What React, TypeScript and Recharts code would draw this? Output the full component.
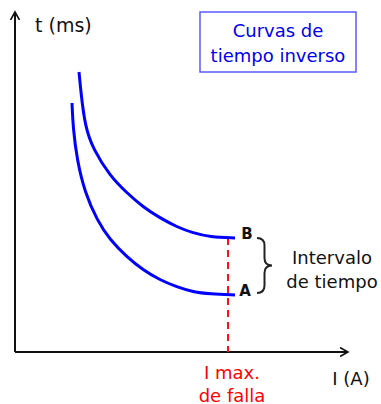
import { ComposedChart, Line, XAxis, YAxis, ReferenceLine, ReferenceDot, ReferenceArea } from "recharts"

// curve readings, in plot units (I right, t up)
const curveBCurrent = [64, 66, 70, 78, 95, 112, 128, 145, 162, 178, 195, 220]
const curveBTime = [280, 259, 226, 203, 176, 159, 145, 134, 125, 119, 115, 114]
const curveACurrent = [57, 58, 62, 70, 82, 95, 112, 128, 145, 162, 178, 195, 220]
const curveATime = [249, 225, 192, 159, 132, 112, 95, 82, 72, 65, 60, 58, 57]

const maxFaultCurrent = 213
const titleLines = ["Curvas de", "tiempo inverso"]
const intervalLines = ["Intervalo", "de tiempo"]
const faultLines = ["I max.", "de falla"]

const curveB = curveBCurrent.map((i, k) => ({ i, t: curveBTime[k] }))
const curveA = curveACurrent.map((i, k) => ({ i, t: curveATime[k] }))

const FONT = "DejaVu Sans"

function textBlock(lines: string[], color: string, size: number, gap: number, anchor: "start" | "middle" = "middle", weight = "normal") {
  return (p: any) => {
    const top = p.cy - ((lines.length - 1) * gap) / 2
    return (
      <text
        x={p.cx}
        y={top}
        fill={color}
        fontSize={size}
        fontFamily={FONT}
        fontWeight={weight}
        textAnchor={anchor}
        dominantBaseline="central"
      >
        {lines.map((l, k) => (
          <tspan key={l} x={p.cx} y={top + k * gap}>
            {l}
          </tspan>
        ))}
      </text>
    )
  }
}

function Brace(p: any) {
  const { x, y, width: w, height: h } = p
  const mx = x + w / 2
  const my = y + h / 2
  const r = w / 2
  const d = `M${x},${y} Q${mx},${y} ${mx},${y + r} L${mx},${my - r} Q${mx},${my} ${x + w},${my} Q${mx},${my} ${mx},${my + r} L${mx},${y + h - r} Q${mx},${y + h} ${x},${y + h}`
  return <path d={d} fill="none" stroke="#222" strokeWidth={2} />
}

export default function App() {
  return (
    <div style={{ position: "absolute", left: 0, top: 0 }}>
      <svg width={0} height={0} style={{ position: "absolute" }}>
        <defs>
          <marker id="arrowHead" markerUnits="userSpaceOnUse" markerWidth={12} markerHeight={12} refX={8} refY={5} orient="auto">
            <path d="M0,0.5 L8,5 L0,9.5" fill="none" stroke="#111" strokeWidth={1.6} />
          </marker>
        </defs>
      </svg>
      <ComposedChart width={381} height={404} margin={{ top: 12, right: 33, bottom: 52, left: 15 }}>
        <XAxis type="number" dataKey="i" domain={[0, 333]} allowDataOverflow hide />
        <YAxis type="number" dataKey="t" domain={[0, 340]} allowDataOverflow hide />

        <ReferenceArea x1={185} x2={341} y1={280} y2={340} ifOverflow="visible" fill="#fff" fillOpacity={1} stroke="#5b5bff" strokeWidth={1.5} />
        <ReferenceDot x={263} y={310} r={0} ifOverflow="visible" shape={textBlock(titleLines, "#0000ee", 18, 25)} />

        <ReferenceLine segment={[{ x: 0, y: 0 }, { x: 0, y: 340 }]} ifOverflow="visible" stroke="#111" strokeWidth={2} markerEnd="url(#arrowHead)" />
        <ReferenceLine segment={[{ x: 0, y: 0 }, { x: 333, y: 0 }]} ifOverflow="visible" stroke="#111" strokeWidth={2} markerEnd="url(#arrowHead)" />
        <ReferenceDot x={20} y={327} r={0} ifOverflow="visible" shape={textBlock(["t (ms)"], "#111", 19, 0, "start")} />
        <ReferenceDot x={336} y={-26} r={0} ifOverflow="visible" shape={textBlock(["I (A)"], "#111", 18, 0)} />

        <ReferenceLine
          segment={[{ x: maxFaultCurrent, y: curveBTime[curveBTime.length - 1] }, { x: maxFaultCurrent, y: 0 }]}
          ifOverflow="visible"
          stroke="#ff1010"
          strokeWidth={2}
          strokeDasharray="7 5"
        />
        <ReferenceDot x={217} y={-31.5} r={0} ifOverflow="visible" shape={textBlock(faultLines, "#ff0000", 18, 23)} />

        <Line data={curveB} dataKey="t" type="basis" stroke="#0000ff" strokeWidth={3} dot={false} isAnimationActive={false} />
        <Line data={curveA} dataKey="t" type="basis" stroke="#0000ff" strokeWidth={3} dot={false} isAnimationActive={false} />

        <ReferenceDot x={232} y={118} r={0} ifOverflow="visible" shape={textBlock(["B"], "#111", 15, 0, "middle", "bold")} />
        <ReferenceDot x={230} y={61} r={0} ifOverflow="visible" shape={textBlock(["A"], "#111", 15, 0, "middle", "bold")} />

        <ReferenceArea x1={242} x2={257} y1={59} y2={114} ifOverflow="visible" shape={Brace} />
        <ReferenceDot x={317} y={83} r={0} ifOverflow="visible" shape={textBlock(intervalLines, "#111", 18, 24)} />
      </ComposedChart>
    </div>
  )
}
